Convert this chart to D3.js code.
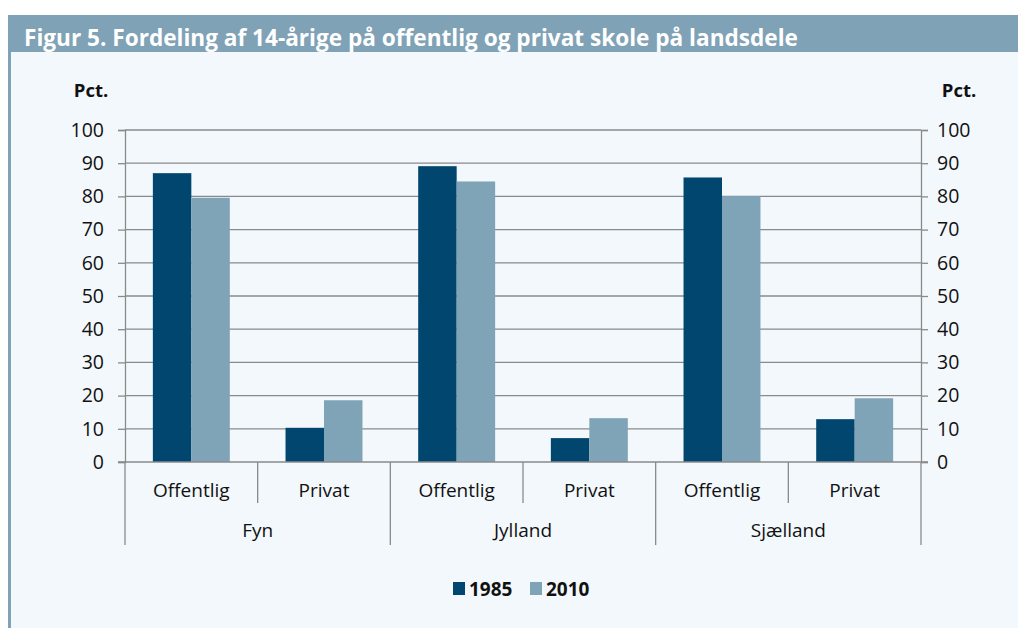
<!DOCTYPE html>
<html><head><meta charset="utf-8">
<script src="https://cdn.jsdelivr.net/npm/d3@7"></script>
<style>body{margin:0;background:#fff;}svg{display:block;}</style>
</head><body>
<svg id="c" width="1018" height="628"></svg>
<script>
const regions = ["Fyn", "Jylland", "Sjælland"];
const schoolTypes = ["Offentlig", "Privat"];
const years = ["1985", "2010"];
const values1985 = [87.0, 10.3, 89.1, 7.2, 85.7, 12.9];
const values2010 = [79.6, 18.6, 84.5, 13.2, 80.1, 19.2];
const yTicks = [0, 10, 20, 30, 40, 50, 60, 70, 80, 90, 100];
const titleText = "Figur 5. Fordeling af 14-årige på offentlig og privat skole på landsdele";
const yLabel = "Pct.";

const colors = {"1985": "#00466e", "2010": "#7fa3b7"};
const font = "'Open Sans', 'Noto Sans', sans-serif";
const svg = d3.select("#c");

// frame
svg.append("rect").attr("x", 8).attr("y", 15).attr("width", 1010).attr("height", 613).attr("fill", "#7fa2b6");
svg.append("rect").attr("x", 11).attr("y", 52).attr("width", 1007).attr("height", 576).attr("fill", "#f3f8fc");
svg.append("text").attr("x", 24).attr("y", 46).attr("fill", "#fff")
  .attr("font-family", font).attr("font-weight", 700).attr("font-size", 22.6).text(titleText);

const x0 = 125, x1 = 921, yBase = 462, yTop = 130;
const y = d3.scaleLinear().domain([0, 100]).range([yBase, yTop]);

const cats = [];
regions.forEach(r => schoolTypes.forEach(s => cats.push(r + "|" + s)));
const xCat = d3.scaleBand().domain(cats).range([x0, x1]).paddingInner(0.42).paddingOuter(0.21);
const xBand = d3.scaleBand().domain(cats).range([x0, x1]);
const xYear = d3.scaleBand().domain(years).range([0, xCat.bandwidth()]);
const xRegion = d3.scaleBand().domain(regions).range([x0, x1]);

const g = svg.append("g");
// gridlines
g.selectAll("line.grid").data(yTicks.filter(t => t > 0)).join("line")
  .attr("x1", x0).attr("x2", x1).attr("y1", d => y(d)).attr("y2", d => y(d))
  .attr("stroke", "#8a8a8a").attr("stroke-width", 1.3);

// axes
const leftAxis = d3.axisLeft(y).tickValues(yTicks).tickSize(7).tickPadding(7);
const rightAxis = d3.axisRight(y).tickValues(yTicks).tickSize(7).tickPadding(9);
function styleAxis(a) {
  a.select(".domain").attr("stroke", "#8a8a8a").attr("stroke-width", 1.3);
  a.selectAll(".tick line").attr("stroke", "#8a8a8a").attr("stroke-width", 1.3);
  a.selectAll(".tick text").attr("fill", "#111").attr("font-family", font).attr("font-size", 19.5);
}
const la = svg.append("g").attr("transform", `translate(${x0},0)`).call(leftAxis);
styleAxis(la);
la.selectAll(".tick text").attr("x", -21);
const ra = svg.append("g").attr("transform", `translate(${x1},0)`).call(rightAxis);
styleAxis(ra);
ra.selectAll(".tick text").attr("x", 16);

// bars
const data = [];
cats.forEach((c, i) => {
  data.push({cat: c, year: "1985", v: values1985[i]});
  data.push({cat: c, year: "2010", v: values2010[i]});
});
svg.append("g").selectAll("rect").data(data).join("rect")
  .attr("x", d => xCat(d.cat) + xYear(d.year))
  .attr("y", d => y(d.v))
  .attr("width", xYear.bandwidth())
  .attr("height", d => y(0) - y(d.v))
  .attr("fill", d => colors[d.year]);

// x-axis baseline
svg.append("line").attr("x1", x0 - 7).attr("x2", x1 + 7).attr("y1", yBase).attr("y2", yBase)
  .attr("stroke", "#8a8a8a").attr("stroke-width", 1.5);

// category separators
const sepG = svg.append("g").attr("stroke", "#8a8a8a").attr("stroke-width", 1.3);
cats.forEach((c, i) => {
  if (i % 2 === 1) {
    sepG.append("line").attr("x1", xBand(c)).attr("x2", xBand(c)).attr("y1", yBase).attr("y2", 503);
  }
});
regions.forEach(r => {
  sepG.append("line").attr("x1", xRegion(r)).attr("x2", xRegion(r)).attr("y1", yBase).attr("y2", 545);
});
sepG.append("line").attr("x1", x1).attr("x2", x1).attr("y1", yBase).attr("y2", 545);

// category labels
svg.append("g").selectAll("text").data(cats).join("text")
  .attr("x", d => xBand(d) + xBand.bandwidth() / 2).attr("y", 497)
  .attr("text-anchor", "middle").attr("font-family", font).attr("font-size", 19).attr("fill", "#111")
  .text(d => d.split("|")[1]);
svg.append("g").selectAll("text").data(regions).join("text")
  .attr("x", d => xRegion(d) + xRegion.bandwidth() / 2).attr("y", 537)
  .attr("text-anchor", "middle").attr("font-family", font).attr("font-size", 19).attr("fill", "#111")
  .text(d => d);

// Pct labels
svg.append("text").attr("x", 91).attr("y", 97).attr("text-anchor", "middle")
  .attr("font-family", font).attr("font-weight", 700).attr("font-size", 18.5).attr("fill", "#111").text(yLabel);
svg.append("text").attr("x", 959).attr("y", 97).attr("text-anchor", "middle")
  .attr("font-family", font).attr("font-weight", 700).attr("font-size", 18.5).attr("fill", "#111").text(yLabel);

// legend
const lg = svg.append("g").attr("transform", "translate(453,589)");
const lx = [0, 77];
years.forEach((yr, i) => {
  lg.append("rect").attr("x", lx[i]).attr("y", -7).attr("width", 12).attr("height", 13).attr("fill", colors[yr]);
  lg.append("text").attr("x", lx[i] + 16).attr("y", 7).attr("font-family", font).attr("font-weight", 700)
    .attr("font-size", 19).attr("fill", "#111").text(yr);
});
</script>
</body></html>
